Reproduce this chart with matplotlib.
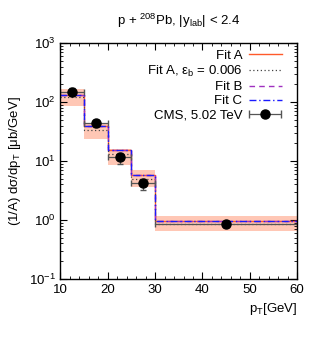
import numpy as np
import matplotlib
matplotlib.use('Agg')
import matplotlib.pyplot as plt
from matplotlib.ticker import LogLocator, MultipleLocator, NullFormatter
from matplotlib.legend_handler import HandlerErrorbar
from matplotlib.container import ErrorbarContainer

plt.rcParams['font.family'] = ['Liberation Sans', 'DejaVu Sans']
plt.rcParams['mathtext.fontset'] = 'custom'
plt.rcParams['mathtext.rm'] = 'Liberation Sans'
plt.rcParams['mathtext.it'] = 'Liberation Sans'

# bins in pT [GeV]
bin_edges = [10, 15, 20, 25, 30, 60]

# model curves (per bin)
fit_a = [133, 39, 15.2, 5.7, 0.97]
fit_a_eb = [120, 33.4, 13.4, 5.0, 0.86]
fit_b = [134, 39.5, 15.3, 5.75, 0.98]
fit_c = [133, 39, 15.2, 5.7, 0.97]
band_lo = [85.5, 23.2, 8.7, 3.6, 0.64]
band_hi = [166, 44.5, 16.3, 7.0, 1.19]

# CMS data
cms_x = [12.5, 17.5, 22.5, 27.5, 45]
cms_y = [150, 43.4, 11.5, 4.2, 0.84]
cms_lo = [128, 38, 9.0, 3.27, 0.76]
cms_hi = [172, 49, 13.7, 5.0, 0.92]

edges = np.array(bin_edges)
x_half = (edges[1:] - edges[:-1]) / 2

def steps(vals):
    return np.append(vals, vals[-1])

fig = plt.figure(figsize=(3.11, 3.39), dpi=100)
ax = fig.add_axes([0.1945, 0.177, 0.761, 0.696])

ax.fill_between(edges, steps(band_lo), steps(band_hi), step='post',
                color='#ffb59c', alpha=0.75, lw=0)
ax.step(edges, steps(fit_a), where='post', color='#ff5a2a', lw=1.0, label='Fit A')
ax.step(edges, steps(fit_a_eb), where='post', color='#444444', lw=0.9,
        ls=(0, (1, 2)), label=r'Fit A, $\varepsilon_\mathrm{b}$ = 0.006')
ax.step(edges, steps(fit_b), where='post', color='#a030c0', lw=1.0,
        ls=(0, (4, 3)), label='Fit B')
ax.step(edges, steps(fit_c), where='post', color='#1a1aff', lw=1.0,
        ls=(0, (5, 2, 1, 2)), label='Fit C')

yerr = [np.array(cms_y) - np.array(cms_lo), np.array(cms_hi) - np.array(cms_y)]
ax.errorbar(cms_x, cms_y, xerr=x_half, yerr=yerr, fmt='o', color='black',
            ecolor='#555555', elinewidth=0.9, capsize=2.5, markersize=6.5)
# legend entry: horizontal bar only (placed outside the visible x range)
ax.errorbar([100], [1], xerr=[1], fmt='o', color='black',
            ecolor='#555555', elinewidth=0.9, capsize=3, markersize=6.5,
            label='CMS, 5.02 TeV')

ax.set_yscale('log')
ax.set_xlim(10, 60)
ax.set_ylim(0.1, 1000)
ax.xaxis.set_major_locator(MultipleLocator(10))
ax.xaxis.set_minor_locator(MultipleLocator(2))
ax.yaxis.set_major_locator(LogLocator(base=10, numticks=10))
ax.yaxis.set_minor_locator(LogLocator(base=10, subs=np.arange(2, 10), numticks=10))
ax.yaxis.set_minor_formatter(NullFormatter())
ax.tick_params(which='both', direction='in', top=True, right=True, labelsize=9.5)
ax.tick_params(which='major', length=5)
ax.tick_params(which='minor', length=2.5)
for s in ax.spines.values():
    s.set_linewidth(1.0)

ax.set_title(r'p + $^{208}$Pb, |y$_\mathrm{lab}$| < 2.4', fontsize=9.5, pad=13)
ax.set_ylabel(r'(1/A) d$\sigma$/dp$_\mathrm{T}$ [$\mu$b/GeV]', fontsize=9.5)
ax.set_xlabel(r'p$_\mathrm{T}$[GeV]', fontsize=9.5, loc='right')

leg = ax.legend(loc='upper right', bbox_to_anchor=(0.963, 1.0), frameon=False,
                markerfirst=False, fontsize=9.5, handlelength=2.5,
                handletextpad=0.5, labelspacing=0.15, borderaxespad=0.1,
                handler_map={ErrorbarContainer: HandlerErrorbar(xerr_size=1.2)})
for t in leg.get_texts():
    t.set_ha('right')

fig.savefig('out.png', dpi=100)
